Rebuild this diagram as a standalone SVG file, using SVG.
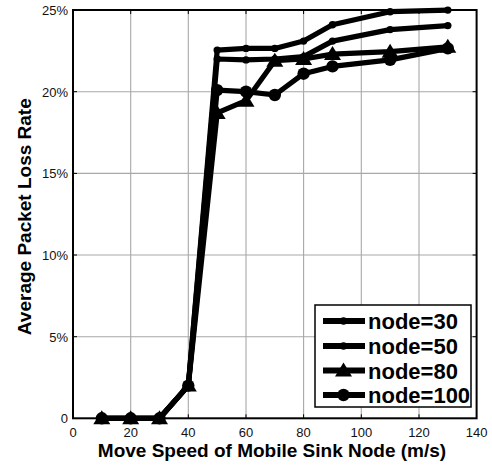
<svg xmlns="http://www.w3.org/2000/svg" width="492" height="466" viewBox="0 0 492 466">
  <style>
    .grid { stroke: #a8a8a8; stroke-width: 1.1; fill: none; }
    .axis { stroke: #000; stroke-width: 2; fill: none; }
    .tick { stroke: #000; stroke-width: 1; fill: none; }
    .ticklbl { font-family: "Liberation Sans", Arial, sans-serif; font-size: 13px; fill: #111; }
    .axlbl { font-family: "Liberation Sans", Arial, sans-serif; font-size: 19px; font-weight: bold; fill: #000; }
    .series { stroke: #000; stroke-width: 5.2; fill: none; stroke-linejoin: round; stroke-linecap: butt; }
    .legline { stroke: #000; stroke-width: 6; fill: none; }
    .legtxt { font-family: "Liberation Sans", Arial, sans-serif; font-size: 22px; font-weight: bold; fill: #000; }
    .s30, .s50 { marker-start: url(#dot); marker-mid: url(#dot); marker-end: url(#dot); }
    .s80 { marker-start: url(#tri); marker-mid: url(#tri); marker-end: url(#tri); }
    .s100 { marker-start: url(#circ); marker-mid: url(#circ); marker-end: url(#circ); }
  </style>
  <defs>
    <marker id="dot" markerUnits="userSpaceOnUse" markerWidth="10" markerHeight="10" viewBox="-5 -5 10 10" refX="0" refY="0" overflow="visible">
      <circle cx="0" cy="0" r="3.7" fill="#000"/>
    </marker>
    <marker id="tri" markerUnits="userSpaceOnUse" markerWidth="20" markerHeight="20" viewBox="-10 -10 20 20" refX="0" refY="0" overflow="visible">
      <path d="M0,-8 L8.5,6 L-8.5,6 Z" fill="#000"/>
    </marker>
    <marker id="circ" markerUnits="userSpaceOnUse" markerWidth="16" markerHeight="16" viewBox="-8 -8 16 16" refX="0" refY="0" overflow="visible">
      <circle cx="0" cy="0" r="6.2" fill="#000"/>
    </marker>
  </defs>

  <rect x="0" y="0" width="492" height="466" fill="#fff"/>

  <!-- grid lines -->
  <g id="grid" class="grid">
    <path d="M130.7,10 V418.3 M188.3,10 V418.3 M246,10 V418.3 M303.6,10 V418.3 M361.3,10 V418.3 M419,10 V418.3"/>
    <path d="M73,336.7 H476.6 M73,255 H476.6 M73,173.4 H476.6 M73,91.7 H476.6"/>
  </g>

  <!-- axes box and ticks -->
  <g id="axes">
    <rect class="axis" x="73" y="10" width="403.6" height="408.3"/>
    <path class="tick" d="M130.7,418.3 v-4 M188.3,418.3 v-4 M246,418.3 v-4 M303.6,418.3 v-4 M361.3,418.3 v-4 M419,418.3 v-4
                          M130.7,10 v4 M188.3,10 v4 M246,10 v4 M303.6,10 v4 M361.3,10 v4 M419,10 v4
                          M73,336.7 h4 M73,255 h4 M73,173.4 h4 M73,91.7 h4
                          M476.6,336.7 h-4 M476.6,255 h-4 M476.6,173.4 h-4 M476.6,91.7 h-4"/>
  </g>

  <!-- tick labels -->
  <g id="xticks" class="ticklbl" text-anchor="middle">
    <text x="73" y="436.5">0</text>
    <text x="130.7" y="436.5">20</text>
    <text x="188.3" y="436.5">40</text>
    <text x="246" y="436.5">60</text>
    <text x="303.6" y="436.5">80</text>
    <text x="361.3" y="436.5">100</text>
    <text x="419" y="436.5">120</text>
    <text x="476.6" y="436.5">140</text>
  </g>
  <g id="yticks" class="ticklbl" text-anchor="end">
    <text x="68" y="423">0</text>
    <text x="68" y="341.5">5%</text>
    <text x="68" y="259.8">10%</text>
    <text x="68" y="178.2">15%</text>
    <text x="68" y="96.5">20%</text>
    <text x="68" y="14.8">25%</text>
  </g>

  <!-- axis titles -->
  <text id="xlabel" class="axlbl" x="272" y="457.3" text-anchor="middle">Move Speed of Mobile Sink Node (m/s)</text>
  <text id="ylabel" class="axlbl" transform="translate(30.7,216.7) rotate(-90)" text-anchor="middle">Average Packet Loss Rate</text>

  <!-- data series -->
  <g id="connectors">
    <polyline id="node30" class="series s30" points="101.8,418.3 130.7,418.3 159.5,418.3 188.3,385.6 217.2,50.1 246,48.4 274.8,48.4 303.6,41.1 332.5,24.7 390.1,11.7 447.8,10.1"/>
    <polyline id="node50" class="series s50" points="101.8,418.3 130.7,418.3 159.5,418.3 188.3,385.6 217.2,59 246,59.9 274.8,59 303.6,56.6 332.5,41.1 390.1,29.6 447.8,25.6"/>
    <polyline id="node100" class="series s100" points="101.8,418.3 130.7,418.3 159.5,418.3 188.3,385.6 217.2,90.1 246,91.7 274.8,95 303.6,73.7 332.5,66.4 390.1,59.9 447.8,48.4"/>
    <polyline id="node80" class="series s80" points="101.8,418.3 130.7,418.3 159.5,418.3 188.3,385.6 217.2,112.9 246,100.7 274.8,60.7 303.6,59 332.5,54.1 390.1,51.7 447.8,46.8"/>
  </g>

  <!-- legend -->
  <g id="legend">
    <rect x="315" y="305" width="156" height="102" fill="#fff" stroke="#000" stroke-width="1.5"/>
    <g id="leg30">
      <path class="legline" d="M323,321 H365"/>
      <circle cx="343.5" cy="321" r="3.7" fill="#000"/>
      <text class="legtxt" x="368" y="329">node=30</text>
    </g>
    <g id="leg50">
      <path class="legline" d="M323,346 H365"/>
      <circle cx="343.5" cy="346" r="3.7" fill="#000"/>
      <text class="legtxt" x="368" y="354">node=50</text>
    </g>
    <g id="leg80">
      <path class="legline" d="M323,370.5 H365"/>
      <path d="M343.5,362.5 L352,376.5 L335,376.5 Z" fill="#000"/>
      <text class="legtxt" x="368" y="378.5">node=80</text>
    </g>
    <g id="leg100">
      <path class="legline" d="M323,395 H365"/>
      <circle cx="343.5" cy="395" r="6.2" fill="#000"/>
      <text class="legtxt" x="368" y="403">node=100</text>
    </g>
  </g>
</svg>
